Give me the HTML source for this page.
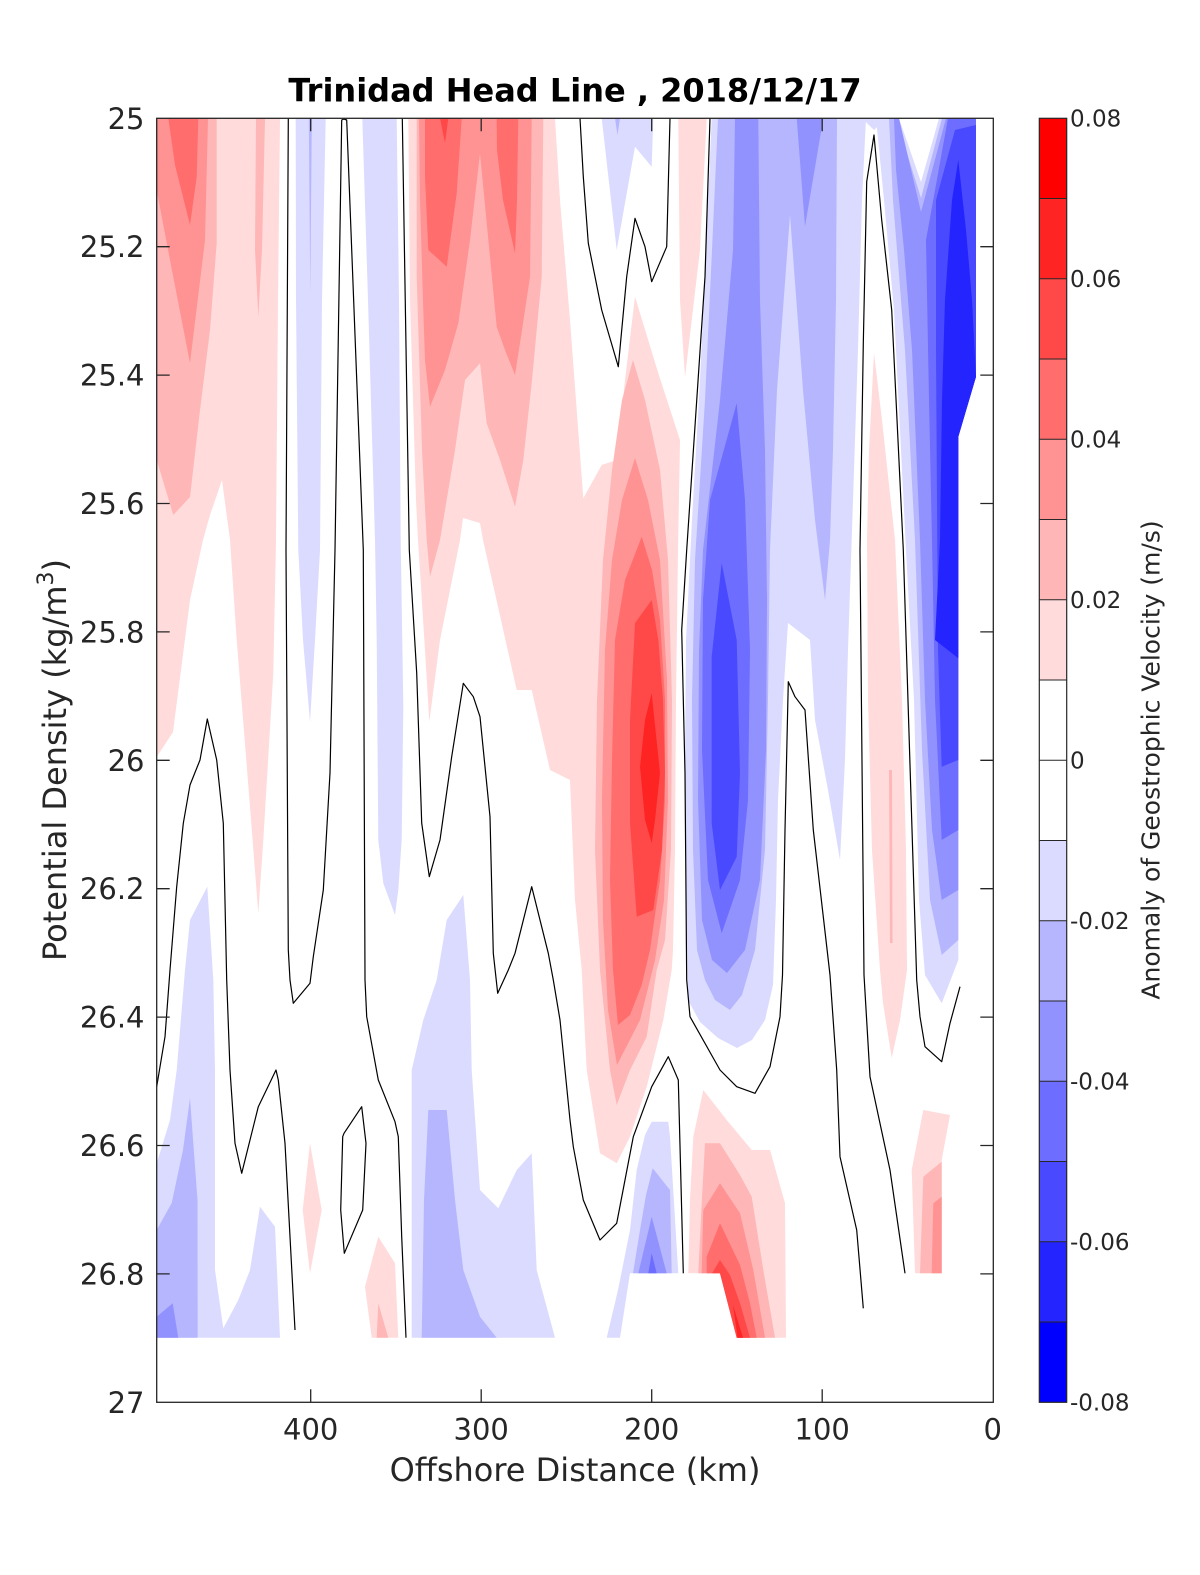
<!DOCTYPE html>
<html><head><meta charset="utf-8"><style>
html,body{margin:0;padding:0;background:#fff;}
svg{display:block;}
text{font-family:"DejaVu Sans","Liberation Sans",sans-serif;fill:#262626;}
.r1{fill:#ffdbdb}.r2{fill:#ffb6b6}.r3{fill:#ff9292}.r4{fill:#ff6d6d}.r5{fill:#ff4949}.r6{fill:#ff2424}
.b1{fill:#dbdbff}.b2{fill:#b6b6ff}.b3{fill:#9292ff}.b4{fill:#6d6dff}.b5{fill:#4949ff}.b6{fill:#2424ff}
.ln{fill:none;stroke:#000;stroke-width:1.2;stroke-linejoin:round}
.ax{stroke:#262626;stroke-width:1.3;fill:none}
</style></head><body>
<svg width="1200" height="1575" viewBox="0 0 1200 1575" xmlns="http://www.w3.org/2000/svg">
<rect width="1200" height="1575" fill="#fff"/>
<!-- left reds -->
<polygon class="r1" points="156.7,118.3 280,118.3 278,300 276,540 273.3,673 263.3,840 258.3,913.3 250,806.7 236.7,640 230,540 222,480 210,515 203,540 190,600 173,732 156.7,757"/>
<polygon class="r2" points="156.7,118.3 216.7,118.3 216.7,243 210,330 200,410 190,497 173.3,515 156.7,460"/>
<polygon class="r2" points="256,118.3 265,118.3 262,250 258.3,316.7 255,250"/>
<polygon class="r3" points="156.7,118.3 208,118.3 205,240 190,363 170,260 156.7,190"/>
<polygon class="r4" points="168.3,118.3 198.3,118.3 196.7,177 190,225 175,165"/>
<!-- top-left blue strips -->
<polygon class="b1" points="295.7,118.3 325.7,118.3 322,300 320,550 315,640 310,721.7 303,640 298.3,550 296,300"/>
<polygon class="b2" points="308.8,118.3 311.8,118.3 310.3,295"/>
<polygon class="b1" points="362.3,118.3 396.7,118.3 399,300 400.7,540 403.3,706.7 401.7,840 398.3,890 395,915 383.3,883.3 378.3,840 376.7,640 375,540 368,300"/>
<!-- center pink -->
<polygon class="r1" points="408.3,118.3 555,118.3 560,200 570,320 583.3,498.3 601.7,465 616.7,460 625,380 635,296.7 658.3,373.3 680,440 678,550 676,700 675,850 673,950 671.7,970 663.3,1020 646.7,1086.7 630,1136.7 616.7,1163.3 600,1153.3 586.7,1070 581.7,970 575,900 570,780 550,770 531.7,690 516.7,690 483,540 480,523 463,518 460,540 450,590 440,640 429.3,721.7 425,650 418,540 416,500 410,300"/>
<polygon class="r2" points="416.7,118.3 543.3,118.3 541.7,276.7 532,380 523.3,460 515,506.7 500,460 486.7,423.3 480,363.3 465,380 455,450 445,510 440,540 430,576.7 426.7,540 422,450 416.7,276.7"/>
<polygon class="r3" points="419,118.3 531.7,118.3 530,276.7 522,330 515,375 505,350 496.7,326.7 480,153.3 470,240 458.3,323.3 445,370 430,406.7 425,360 423.3,310 420,200"/>
<polygon class="r4" points="425,118.3 461.7,118.3 456.7,193.3 446.7,266.7 428.3,250 425,176.7"/>
<polygon class="r4" points="496.7,118.3 518.3,118.3 517,200 515,253.3 503,200 497,150"/>
<polygon class="r5" points="440,118.3 448.3,118.3 445,143"/>
<!-- top middle light blue -->
<polygon class="b1" points="601.7,118.3 653.3,118.3 651.7,166.7 635,146.7 616.7,250"/>
<polygon class="b2" points="615,118.3 620,118.3 617.5,135"/>
<polygon class="r1" points="678.3,118.3 706.7,118.3 700,250 685,377 680,300"/>
<!-- central red blob -->
<polygon class="r2" points="633,360 645,400 660,470 668,560 672,700 671,850 665,940 656.7,970 646.7,1036.7 630,1070 616.7,1105 610,1070 600,970 595,850 597,700 603,560 612,470 622,400"/>
<polygon class="r3" points="635,458 648,500 660,560 667,680 668,800 664,900 655,960 640,1020 617,1065 608,1010 603,920 602,800 605,650 612,560 622,500"/>
<polygon class="r4" points="641.7,536.7 652,570 660,620 665,700 665,800 660,880 650,950 641.7,985 630,1015 618,1025 613,970 610,880 612,760 615,640 625,580"/>
<polygon class="r5" points="651.7,600 658.3,640 663,700 665,773 662,850 653.3,910 636.7,916.7 630,823 630,720 635,623"/>
<polygon class="r6" points="651.7,693.3 660,773 655,820 651.7,843.3 645,820 640,766.7 645,720"/>
<!-- central blues -->
<polygon class="b1" points="711.7,118.3 866,118.3 862,200 858,350 853,500 848,650 845,760 840,860 828,790 815,720 810,640 788,623 783,700 778,800 776,900 773,985 765,1020 752,1040 737,1048 718,1038 700,1022 688,1000 686,880 685,760 686,640 692,520 700,380 706,250"/>
<polygon class="b1" points="862,118.3 886,118.3 874,130"/>
<polygon class="b2" points="718,118.3 837,118.3 836,300 833,450 830,540 825,600 815,520 803,390 790,215 777,390 770,550 768,700 765,850 755,950 742,995 730,1010 715,1000 705,980 697,950 693,850 692,700 695,560 705,400 712,250"/>
<polygon class="b3" points="735,118.3 758.3,118.3 760,300 765,450 767,600 766,750 760,880 745,950 727,973 712,960 702,920 698,800 699,650 703,550 720,400 733,250"/>
<polygon class="b3" points="796.7,118.3 823.3,118.3 805,226.7"/>
<polygon class="b4" points="736.7,403.3 745,500 750,650 748,800 740,880 721.7,933.3 708,880 702,750 703,600 710,500"/>
<polygon class="b5" points="721.7,563.3 736.7,640 740,773.3 736.7,856.7 720,890 711.7,823.3 711.7,656.7"/>
<!-- pink strip inside loop -->
<polygon class="r1" points="874,353 882,420 895,540 902,700 906,850 907,970 900,1020 891.7,1058 883,1003 880,970 872,850 868,700 867,540 869,450"/>
<polygon class="r2" points="889,770 892,770 892.5,943 890,943"/>
<!-- right band -->
<polygon class="b1" points="876,118.3 899,118.3 921,182 939,118.3 976,118.3 976,376.7 958.3,436.7 958.3,960 941.7,1003.3 925,975 919,900 914,700 906,550 894,310 884,200"/>
<polygon class="b2" points="889,118.3 896,118.3 921,198 942,118.3 976,118.3 976,376.7 958.3,436.7 958.3,940 941.7,955 930,900 922,750 915,540 905,350 893,200"/>
<polygon class="b3" points="894,118.3 899,118.3 921,212 946,118.3 976,118.3 976,376.7 958.3,436.7 958.3,890 941.7,900 932,830 925,700 920,540 912,350 904,250 896,170"/>
<polygon class="b4" points="926,240 948,118.3 976,118.3 976,376.7 958.3,436.7 958.3,830 941.7,840 935,700 932,540 929,400"/>
<polygon class="b5" points="936,200 955,130 976,125 976,376.7 958.3,436.7 958.3,760 941.7,766.7 938,650 937,500 936,350"/>
<polygon class="b6" points="958.3,160 966,230 972,300 976,376.7 958.3,436.7 958.3,658.3 935,640 940,540 942,400 945,300 952,200"/>
<!-- lower left blues -->
<polygon class="b1" points="207.3,886.7 213.3,980 215,1070 215,1270 223.3,1328.3 238.3,1300 250,1270 260,1206.7 275,1226.7 280,1337.7 156.7,1337.7 156.7,1163.3 170,1120 176.7,1070 185,970 190,920"/>
<polygon class="b2" points="190,1098.3 197.5,1200 197.7,1337.7 156.7,1337.7 156.7,1230 171.7,1203 183,1150"/>
<polygon class="b3" points="156.7,1316.7 172.7,1303.3 178.3,1337.7 156.7,1337.7"/>
<polygon class="r1" points="310,1143.3 321.7,1210 310,1273.3 302.7,1210"/>
<polygon class="r1" points="378.3,1236.7 395,1263.3 398.3,1337.7 371.7,1337.7 365,1286.7"/>
<polygon class="r2" points="378.3,1303.3 388.3,1337.7 376.7,1337.7"/>
<!-- lower middle blue -->
<polygon class="b1" points="463.3,895 470,980 471.7,1070 480,1190 498.3,1208.3 516.7,1170 531.7,1153.3 536.7,1270 555,1337.7 411.7,1337.7 411.7,1070 423.3,1020 436.7,980 446.7,920"/>
<polygon class="b2" points="428.3,1110 446.7,1110 455,1200 463.3,1270 480,1316.7 496.7,1337.7 421.7,1337.7 424,1200"/>
<!-- blue wedge -->
<polygon class="b1" points="651.7,1121.7 668.3,1121.7 670,1136.7 678.3,1273.3 630,1273.3 620,1337.7 606.7,1337.7 618,1290 630,1230 636.7,1170 645,1135"/>
<polygon class="b2" points="652.7,1168.3 670,1190 671.7,1273.3 633,1273.3 640,1230 646,1195"/>
<polygon class="b3" points="651.7,1216.7 666.7,1273.3 638.3,1273.3 645,1245"/>
<polygon class="b4" points="651.7,1253.3 656.7,1273.3 648.3,1273.3"/>
<!-- red wedge -->
<polygon class="r1" points="703.3,1090 726.7,1120 751.7,1150 770,1150 785,1203.3 786,1337.7 736.7,1337.7 720,1273.3 688.3,1273.3 690,1200 693.3,1136.7"/>
<polygon class="r2" points="705,1143.3 720,1143.3 740,1175 751.7,1196.7 763.3,1270 775,1337.7 736.7,1337.7 720,1273.3 698.3,1273.3 701.7,1203.3"/>
<polygon class="r3" points="720,1183.3 740,1213.3 753.3,1270 765,1337.7 736.7,1337.7 720,1273.3 701.7,1273.3 703.3,1210"/>
<polygon class="r4" points="720,1223.3 740,1265 750,1303.3 756.7,1337.7 736.7,1337.7 720,1273.3 706.7,1273.3 706.7,1256.7"/>
<polygon class="r5" points="720,1260 730,1275 740,1303.3 750,1337.7 736.7,1337.7 720,1273.3 712,1273.3"/>
<polygon class="r6" points="733,1305 743,1337.7 737.5,1337.7"/>
<!-- right-bottom pink -->
<polygon class="r1" points="923.3,1110 950,1115 941.7,1160 941.7,1273.3 915,1273.3 911.7,1170"/>
<polygon class="r2" points="941.7,1161.7 941.7,1273.3 920,1273.3 923.3,1176.7"/>
<polygon class="r3" points="941.7,1196.7 941.7,1273.3 931.7,1273.3 933.3,1203.3"/>
<!-- contour lines -->
<polyline class="ln" points="288.3,118.3 286,550 288.3,950 290,980 293.3,1003.3 310,983.3 313.3,956.7 323.3,890 330,773 335,550 341.7,120 344,119 346.7,120 363.3,550 365,980 366.7,1016.7 378.3,1080 395,1121.7 398.3,1136.7 401.7,1236.7 406,1337.7"/>
<polyline class="ln" points="402.3,118.3 409.3,550 416.7,673 421.7,823 429.3,876.7 440,840 451.7,756.7 463.3,683.3 473.3,696.7 480,716.7 490,816.7 493.3,953.3 497.7,993.3 508.3,970 515,953.3 531.7,886.7 548.3,953.3 553.3,980 560,1020 570,1120 573.3,1146.7 583.3,1200 600,1240 616.7,1223.3 633.3,1136.7 651.7,1086.7 668.3,1056.7 678.3,1080 683.3,1273.3"/>
<polyline class="ln" points="580,118.3 583.3,176.7 588.3,243.3 601.7,310 618.3,366.7 626.7,276.7 635,218.3 645,246.7 651.7,281.7 666.7,246.7 670,118.3"/>
<polyline class="ln" points="710,118.3 705,276.7 686.7,550 681.7,630 685,773 686.7,980 690,1016.7 720,1070 736.7,1086.7 755,1093.3 770,1066.7 780,1016.7 782.5,975 785,830 788.3,681.7 795,696.7 805,710 813.3,830 830,975 836.7,1070 840,1156.7 856.7,1230 863.3,1308.3"/>
<polyline class="ln" points="905,1273.3 890,1170 870,1076.7 864,975 860,550 863.3,343.3 866.7,181.7 874,135 881.7,220 891.7,310 903.3,550 916.7,980 920,1016.7 925,1046.7 941.7,1061.7 950,1023.3 960,986.7"/>
<polygon class="ln" points="344,1133.3 361.7,1106.7 366,1143.3 362.7,1210 344.3,1253.3 340.7,1210 342.7,1136.7"/>
<polyline class="ln" points="156.7,1086.7 165,1036.7 170,970 176.7,886.7 183.3,823.3 190,785 200,760 207.3,719 216.7,760 223.3,823.3 226.7,980 230,1070 235,1143.3 241.7,1173.3 258.3,1106.7 276,1070 278.3,1080 285,1143.3 290,1236.7 295,1330"/>
<!-- axes -->
<rect class="ax" x="156.7" y="118.3" width="836.6" height="1284"/>
<g class="ax">
<path d="M156.7,246.7h13M156.7,375.1h13M156.7,503.5h13M156.7,631.9h13M156.7,760.3h13M156.7,888.7h13M156.7,1017.1h13M156.7,1145.5h13M156.7,1273.9h13"/>
<path d="M993.3,246.7h-13M993.3,375.1h-13M993.3,503.5h-13M993.3,631.9h-13M993.3,760.3h-13M993.3,888.7h-13M993.3,1017.1h-13M993.3,1145.5h-13M993.3,1273.9h-13"/>
<path d="M310.7,118.3v13M481.2,118.3v13M651.7,118.3v13M822.2,118.3v13"/>
<path d="M310.7,1402.3v-13M481.2,1402.3v-13M651.7,1402.3v-13M822.2,1402.3v-13"/>
</g>
<g font-size="29" text-anchor="end">
<text x="144.5" y="128.8">25</text><text x="144.5" y="257.2">25.2</text><text x="144.5" y="385.6">25.4</text><text x="144.5" y="514">25.6</text><text x="144.5" y="642.4">25.8</text><text x="144.5" y="770.8">26</text><text x="144.5" y="899.2">26.2</text><text x="144.5" y="1027.6">26.4</text><text x="144.5" y="1156">26.6</text><text x="144.5" y="1284.4">26.8</text><text x="144.5" y="1412.8">27</text>
</g>
<g font-size="29" text-anchor="middle">
<text x="310.7" y="1439.5">400</text><text x="481.2" y="1439.5">300</text><text x="651.7" y="1439.5">200</text><text x="822.2" y="1439.5">100</text><text x="992.7" y="1439.5">0</text>
</g>
<text x="575" y="1481" font-size="32" text-anchor="middle">Offshore Distance (km)</text>
<text transform="translate(66,760) rotate(-90)" font-size="32" text-anchor="middle">Potential Density (kg/m<tspan font-size="22" dy="-13">3</tspan><tspan dy="13">)</tspan></text>
<text x="575" y="101.5" font-size="32" font-weight="bold" text-anchor="middle" style="fill:#000">Trinidad Head Line , 2018/12/17</text>
<!-- colorbar -->
<g>
<rect x="1039.3" y="118.3" width="27.4" height="80.25" fill="#ff0000"/>
<rect x="1039.3" y="198.55" width="27.4" height="80.25" fill="#ff2424"/>
<rect x="1039.3" y="278.8" width="27.4" height="80.25" fill="#ff4949"/>
<rect x="1039.3" y="359.05" width="27.4" height="80.25" fill="#ff6d6d"/>
<rect x="1039.3" y="439.3" width="27.4" height="80.25" fill="#ff9292"/>
<rect x="1039.3" y="519.55" width="27.4" height="80.25" fill="#ffb6b6"/>
<rect x="1039.3" y="599.8" width="27.4" height="80.25" fill="#ffdbdb"/>
<rect x="1039.3" y="840.55" width="27.4" height="80.25" fill="#dbdbff"/>
<rect x="1039.3" y="920.8" width="27.4" height="80.25" fill="#b6b6ff"/>
<rect x="1039.3" y="1001.05" width="27.4" height="80.25" fill="#9292ff"/>
<rect x="1039.3" y="1081.3" width="27.4" height="80.25" fill="#6d6dff"/>
<rect x="1039.3" y="1161.55" width="27.4" height="80.25" fill="#4949ff"/>
<rect x="1039.3" y="1241.8" width="27.4" height="80.25" fill="#2424ff"/>
<rect x="1039.3" y="1322.05" width="27.4" height="80.25" fill="#0000ff"/>
<path stroke="#262626" stroke-width="1" d="M1039.3,198.55h27.4M1039.3,278.8h27.4M1039.3,359.05h27.4M1039.3,439.3h27.4M1039.3,519.55h27.4M1039.3,599.8h27.4M1039.3,680.05h27.4M1039.3,760.3h27.4M1039.3,840.55h27.4M1039.3,920.8h27.4M1039.3,1001.05h27.4M1039.3,1081.3h27.4M1039.3,1161.55h27.4M1039.3,1241.8h27.4M1039.3,1322.05h27.4"/>
<rect x="1039.3" y="118.3" width="27.4" height="1284" fill="none" stroke="#262626" stroke-width="1.2"/>
</g>
<g font-size="23">
<text x="1070" y="126.7">0.08</text><text x="1070" y="287.2">0.06</text><text x="1070" y="447.7">0.04</text><text x="1070" y="608.2">0.02</text><text x="1070" y="768.7">0</text><text x="1070" y="929.2">-0.02</text><text x="1070" y="1089.7">-0.04</text><text x="1070" y="1250.2">-0.06</text><text x="1070" y="1410.7">-0.08</text>
</g>
<text transform="translate(1159.7,760) rotate(-90)" font-size="25" text-anchor="middle">Anomaly of Geostrophic Velocity (m/s)</text>
</svg>
</body></html>
